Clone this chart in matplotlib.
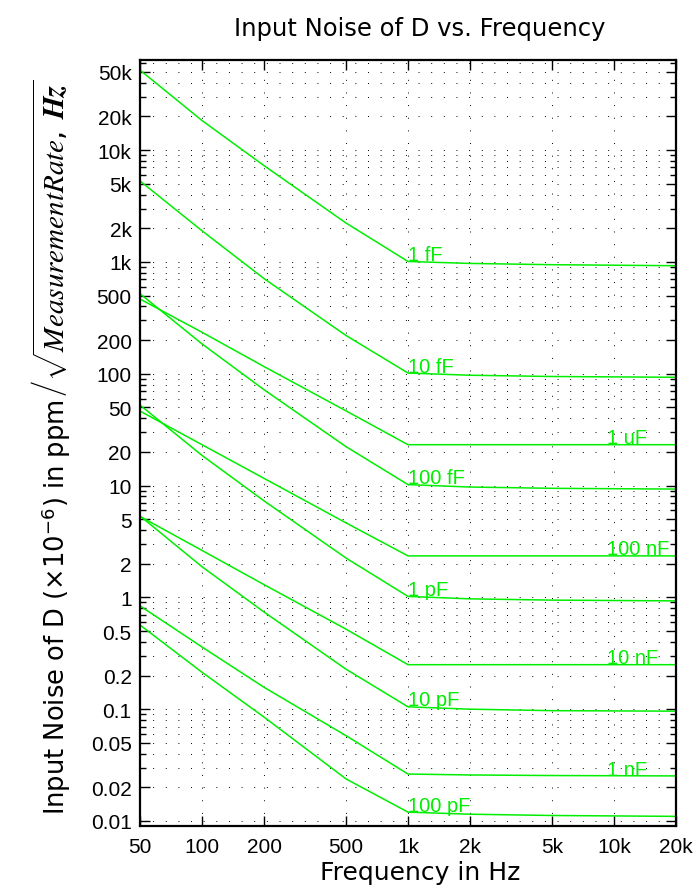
import matplotlib
matplotlib.use("Agg")
import matplotlib.pyplot as plt
from matplotlib.ticker import FixedLocator, FixedFormatter, LogLocator, NullFormatter

freqs = [50, 100, 200, 500, 1000, 2000, 5000, 20000]

# noise values per capacitance
noise_1fF = [52000, 18400, 7270, 2230, 1010, 970, 945, 925]
noise_10fF = [5300, 1900, 710, 220, 101.5, 97, 94.5, 93]
noise_100fF = [520, 185, 72, 22.3, 10.2, 9.7, 9.45, 9.3]
noise_1pF = [52.5, 18.6, 7.3, 2.25, 1.02, 0.97, 0.945, 0.93]
noise_10pF = [5.35, 1.88, 0.74, 0.228, 0.105, 0.1, 0.097, 0.096]
noise_100pF = [0.566, 0.214, 0.085, 0.0238, 0.012, 0.0115, 0.0112, 0.011]
noise_1nF = [0.84, 0.36, 0.157, 0.058, 0.0263, 0.0258, 0.0255, 0.0253]
noise_10nF = [5.3, 2.63, 1.3, 0.52, 0.25, 0.25, 0.25, 0.25]
noise_100nF = [46.4, 23.2, 11.6, 4.64, 2.35, 2.35, 2.35, 2.35]
noise_1uF = [466, 235, 116, 46.6, 23.2, 23.2, 23.2, 23.2]

small_caps = ["1 fF", "10 fF", "100 fF", "1 pF", "10 pF", "100 pF"]
small_series = [noise_1fF, noise_10fF, noise_100fF, noise_1pF, noise_10pF, noise_100pF]
big_caps = ["1 uF", "100 nF", "10 nF", "1 nF"]
big_series = [noise_1uF, noise_100nF, noise_10nF, noise_1nF]

xticks = [50, 100, 200, 500, 1000, 2000, 5000, 10000, 20000]
xtick_labels = ["50", "100", "200", "500", "1k", "2k", "5k", "10k", "20k"]
yticks = [0.01, 0.02, 0.05, 0.1, 0.2, 0.5, 1, 2, 5, 10, 20, 50, 100, 200, 500,
          1000, 2000, 5000, 10000, 20000, 50000]
ytick_labels = ["0.01", "0.02", "0.05", "0.1", "0.2", "0.5", "1", "2", "5", "10",
                "20", "50", "100", "200", "500", "1k", "2k", "5k", "10k", "20k", "50k"]

plt.rcParams["mathtext.fontset"] = "custom"
plt.rcParams["mathtext.rm"] = "DejaVu Sans"
plt.rcParams["mathtext.it"] = "STIXGeneral:italic"
plt.rcParams["mathtext.bf"] = "STIXGeneral:italic:bold"

green = "#00ee00"
dots = (0, (1, 12))
W, H = 697, 895

fig = plt.figure(figsize=(W / 100, H / 100), dpi=100)
ax = fig.add_axes([140 / W, 68 / H, 536 / W, 766 / H])

for name, vals in zip(small_caps, small_series):
    ax.plot(freqs, vals, color=green, lw=1.1)
    ax.annotate(name, (1000, vals[4]), xytext=(0, 1), textcoords="offset points",
                color=green, fontsize=14.5, family="Liberation Sans",
                ha="left", va="baseline")

for name, vals in zip(big_caps, big_series):
    ax.plot(freqs, vals, color=green, lw=1.1)
    ax.annotate(name, (9250, vals[-1]), xytext=(0, 1), textcoords="offset points",
                color=green, fontsize=14.5, family="Liberation Sans",
                ha="left", va="baseline")

ax.set_xscale("log")
ax.set_yscale("log")
ax.set_xlim(50, 20000)
ax.set_ylim(0.00902, 64000)

ax.xaxis.set_major_locator(FixedLocator(xticks))
ax.xaxis.set_major_formatter(FixedFormatter(xtick_labels))
ax.xaxis.set_minor_locator(FixedLocator([]))
ax.yaxis.set_major_locator(FixedLocator(yticks))
ax.yaxis.set_major_formatter(FixedFormatter(ytick_labels))
ax.yaxis.set_minor_locator(LogLocator(base=10, subs=(3, 4, 6, 7, 8, 9), numticks=30))
ax.yaxis.set_minor_formatter(NullFormatter())

ax.grid(True, which="major", axis="both", ls=dots, color="k", lw=0.7)
ax.grid(True, which="minor", axis="y", ls=dots, color="k", lw=0.7)

ax.tick_params(which="both", direction="in", top=True, right=True, width=1,
               labelsize=15)
ax.tick_params(which="major", length=7)
ax.tick_params(axis="x", which="major", pad=8)
ax.tick_params(axis="y", which="major", pad=6)
ax.tick_params(which="minor", length=4)
for lab in ax.get_xticklabels() + ax.get_yticklabels():
    lab.set_family("Liberation Sans")
for sp in ax.spines.values():
    sp.set_linewidth(1.6)

ax.set_xlabel("Frequency in Hz", fontsize=18)
ax.xaxis.set_label_coords(0.522, -0.045)

# y label in two parts: plain text, then the larger square-root term
t1 = fig.text(65 / W, 1 - 815 / H, r"Input Noise of D ($\times 10^{-6}$) in ppm",
              rotation=90, rotation_mode="anchor", ha="left", va="baseline",
              fontsize=18.5)
fig.text(420 / W, 1 - 36 / H, "Input Noise of D vs. Frequency", ha="center",
         va="baseline", fontsize=17.5)

fig.canvas.draw()
top = t1.get_window_extent().y1
fig.text(65 / W, (top + 2) / H,
         r"$\left/\sqrt{MeasurementRate,\ \mathbf{Hz}}\right.$",
         rotation=90, rotation_mode="anchor", ha="left", va="baseline",
         fontsize=21)

fig.savefig("out.png", dpi=100)
